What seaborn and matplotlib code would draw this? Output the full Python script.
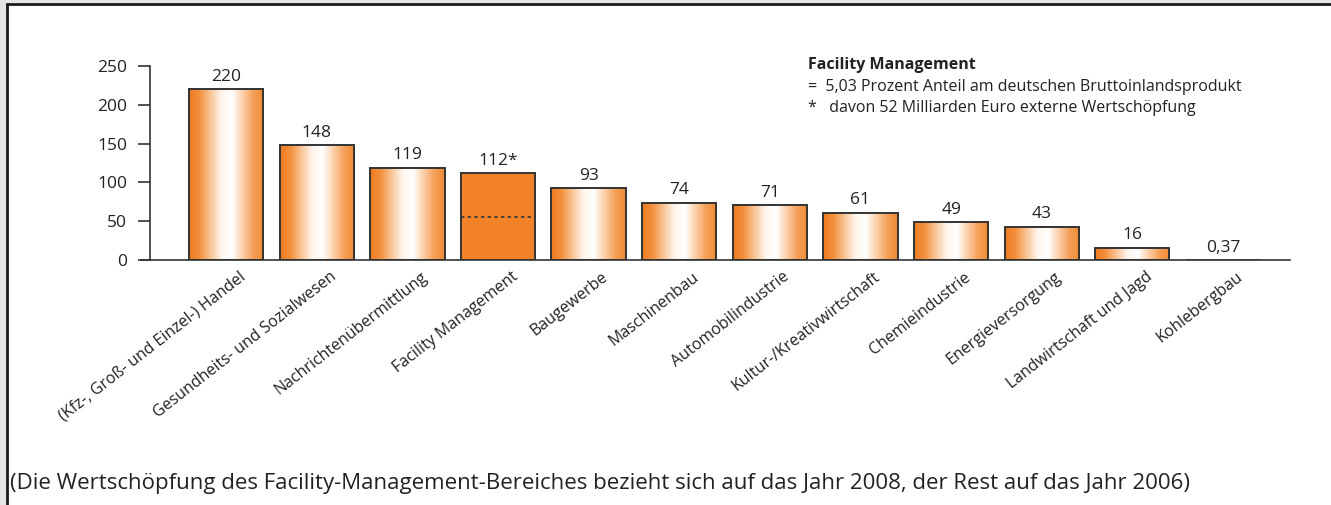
import seaborn as sns
import numpy as np
import pandas as pd
import matplotlib.pyplot as plt
import matplotlib.transforms as mtransforms
from matplotlib.colors import LinearSegmentedColormap
from matplotlib.patches import Rectangle

categories = ['(Kfz-, Groß- und Einzel-) Handel',
              'Gesundheits- und Sozialwesen',
              'Nachrichtenübermittlung',
              'Facility Management',
              'Baugewerbe',
              'Maschinenbau',
              'Automobilindustrie',
              'Kultur-/Kreativwirtschaft',
              'Chemieindustrie',
              'Energieversorgung',
              'Landwirtschaft und Jagd',
              'Kohlebergbau']
values = [220, 148, 119, 112, 93, 74, 71, 61, 49, 43, 16, 0.37]
value_labels = ['220', '148', '119', '112*', '93', '74', '71', '61', '49', '43', '16', '0,37']
fm_dotted = 56
y_ticks = [0, 50, 100, 150, 200, 250]

note_title = 'Facility Management'
note_lines = ['=  5,03 Prozent Anteil am deutschen Bruttoinlandsprodukt',
              '*   davon 52 Milliarden Euro externe Wertschöpfung']
footnote = ('(Die Wertschöpfung des Facility-Management-Bereiches bezieht sich auf das Jahr 2008, '
            'der Rest auf das Jahr 2006)')

df = pd.DataFrame({'Bereich': categories, 'Wert': values})

sns.set_style('white')
plt.rcParams['font.family'] = ['Open Sans', 'DejaVu Sans']
TXT = '#222222'

fig = plt.figure(figsize=(13.31, 5.05), dpi=100, facecolor='#e6e6e6')
# white panel with dark top/left border
fig.patches.append(Rectangle((7 / 1331, -0.05), 1.1, 1.05 - 4 / 505,
                             transform=fig.transFigure, facecolor='white',
                             edgecolor='#1a1a1a', linewidth=2, zorder=-5))

ax = fig.add_axes([141 / 1331, 245 / 505, 1149 / 1331, 194 / 505])
ax.set_facecolor('none')

sns.barplot(data=df, x='Bereich', y='Wert', width=0.82, ax=ax,
            color='#f28228', edgecolor='#333333', linewidth=1.4, saturation=1)

grad_cmap = LinearSegmentedColormap.from_list(
    'orange_glow', ['#ee7a20', '#f3913f', '#f9c596', '#fff4ea', '#ffffff',
                    '#fbd0a9', '#f5a05b', '#f08a30'])
grad = np.linspace(0, 1, 256).reshape(1, -1)

for i, patch in enumerate(ax.patches):
    x0 = patch.get_x()
    w = patch.get_width()
    h = patch.get_height()
    if categories[i] == 'Facility Management':
        patch.set_facecolor('#f28228')
        ax.hlines(fm_dotted, x0, x0 + w, colors='#333333', linestyles=(0, (2, 2)),
                  linewidth=1.2, zorder=3)
    elif h < 1:
        patch.set_edgecolor('#555555')
        patch.set_linewidth(2)
    else:
        patch.set_facecolor('none')
        im = ax.imshow(grad, extent=[x0, x0 + w, 0, h], aspect='auto',
                       cmap=grad_cmap, zorder=1.5, interpolation='bilinear')
        im.set_clip_path(patch)
        patch.set_zorder(2)

ax.bar_label(ax.containers[0], labels=value_labels, padding=3,
             fontsize=12.5, color=TXT)

ax.set_xlim(-0.94, 11.74)
ax.set_ylim(0, 250)
ax.set_yticks(y_ticks)
ax.set_xlabel('')
ax.set_ylabel('')

sns.despine(ax=ax, top=True, right=True)
ax.spines['left'].set_position(('data', -0.84))
ax.spines['left'].set_bounds(0, 250)
ax.spines['left'].set_color('#333333')
ax.spines['bottom'].set_color('#333333')
ax.spines['left'].set_linewidth(1.2)
ax.spines['bottom'].set_linewidth(1.2)

ax.tick_params(axis='y', left=True, length=9, width=1.2, color='#333333',
               pad=7.5, labelsize=12.5, labelcolor=TXT)
ax.tick_params(axis='x', bottom=False, pad=3, labelsize=11.5, labelcolor=TXT)
shift = mtransforms.ScaledTranslation(13 / 100, 0, fig.dpi_scale_trans)
for lbl in ax.get_xticklabels():
    lbl.set_rotation(38)
    lbl.set_ha('right')
    lbl.set_rotation_mode('anchor')
    lbl.set_transform(lbl.get_transform() + shift)

fig.text(808 / 1331, 1 - 65 / 505, note_title, fontsize=11.5, fontweight='bold',
         color=TXT, va='center', ha='left')
for k, line in enumerate(note_lines):
    fig.text(808 / 1331, 1 - (87 + 21 * k) / 505, line, fontsize=11.5,
             color=TXT, va='center', ha='left')

fig.text(10 / 1331, 1 - 484 / 505, footnote, fontsize=16, color=TXT,
         va='center', ha='left')

fig.savefig('out.png', dpi=100, facecolor=fig.get_facecolor())
